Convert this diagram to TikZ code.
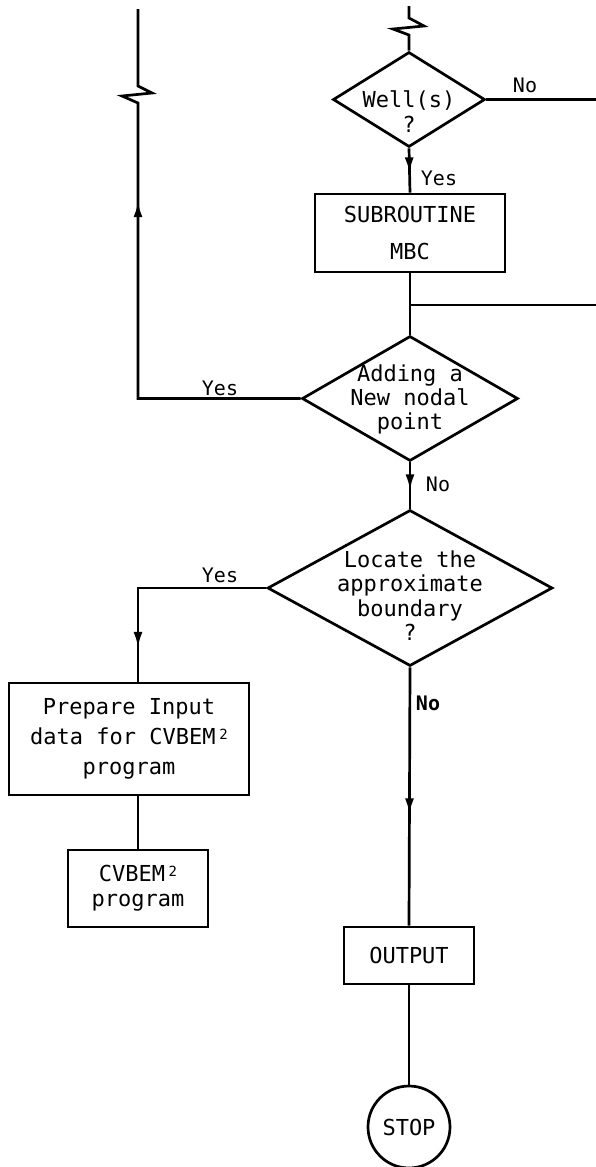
\documentclass[tikz,border=0pt]{standalone}
\usepackage{fontspec}
\newfontfamily\monof{DejaVu Sans Mono}
\usetikzlibrary{shapes.geometric,arrows.meta,decorations.markings}
\tikzset{
  flow/.style={line width=2.7pt},
  txt/.style={font=\monof\fontsize{22}{25}\selectfont, align=center, inner sep=0pt},
  lbl/.style={font=\monof\fontsize{20}{24}\selectfont, inner sep=0pt},
  boxnode/.style={draw, rectangle, line width=2.7pt, inner sep=0pt, txt},
  dia/.style={draw, diamond, line width=2.7pt, inner sep=0pt},
  stopnode/.style={draw, circle, line width=2.7pt, inner sep=0pt, txt},
  ahead/.style={postaction={decorate},
    decoration={markings, mark=at position #1 with {\arrow{Latex[length=16pt,width=9pt]}}}},
}
\newcommand{\suptwo}{\,{\fontsize{14}{14}\selectfont\raisebox{5pt}{2}}}
\begin{document}
\begin{tikzpicture}[x=1pt,y=-1pt]
\useasboundingbox[fill=white] (0,0) rectangle (596,1167);

% decisions
\node[dia, minimum width=152pt, minimum height=95pt] (d1) at (409,99.5) {};
\node[txt] (t1) at (409,112) {Well(s)\\?};
\node[dia, minimum width=216pt, minimum height=125pt] (d2) at (410,398.5) {};
\node[txt, font=\monof\fontsize{22}{24}\selectfont] (t2) at (410,399) {Adding a\\New nodal\\point};
\node[dia, minimum width=285pt, minimum height=156pt] (d3) at (410,588) {};
\node[txt, font=\monof\fontsize{22}{24.5}\selectfont] (t3) at (410,595.5) {Locate the\\approximate\\boundary\\?};

% boxes
\node[boxnode, minimum width=190pt, minimum height=78pt] (b1) at (410,233) {SUBROUTINE\\[12pt]MBC};
\node[boxnode, minimum width=240pt, minimum height=112pt] (b2) at (129,739) {Prepare Input\\[5pt]data for CVBEM\suptwo\\[5pt]program};
\node[boxnode, minimum width=140pt, minimum height=77pt] (b3) at (138,888.5) {CVBEM\suptwo\\program};
\node[boxnode, minimum width=130pt, minimum height=57pt] (b4) at (409,955.5) {OUTPUT};
\node[stopnode, minimum size=82pt] (s) at (409,1127) {STOP};

% coordinates
\coordinate (lx) at (138,0);
\coordinate (topC) at (409,6);
\coordinate (topL) at (138,9);
\coordinate (r1) at (596,99.5);
\coordinate (j) at (410,305);
\coordinate (rj) at (596,305);

% connectors
\draw[flow] (topC) -- (409,18) -- (424,26) -- (393,29) -- (409,35) -- (d1.north);
\draw[flow] (d1.east) -- (r1);
\draw[flow, ahead=25pt] (d1.south) -- (b1.north);
\draw[flow] (b1.south) -- (d2.north);
\draw[flow] (j) -- (rj);
\draw[flow, ahead=360pt] (d2.west) -| (138,103) -- (122,96) -- (152,93) -- (138,86) -- (topL);
\draw[flow, ahead=28pt] (d2.south) -- (d3.north);
\draw[flow, ahead=188pt] (d3.west) -| (b2.north -| lx);
\draw[flow, ahead=147pt] (d3.south) -- (b4.north);
\draw[flow] (b2.south -| lx) -- (b3.north);
\draw[flow] (b4.south) -- (s.north);

% labels
\node[lbl] (l1) at (525,85) {No};
\node[lbl] (l2) at (439,178) {Yes};
\node[lbl] (l3) at (220,388) {Yes};
\node[lbl] (l4) at (438,484) {No};
\node[lbl] (l5) at (220,575) {Yes};
\node[lbl, font=\monof\bfseries\fontsize{20}{24}\selectfont] (l6) at (428,703) {No};
\end{tikzpicture}
\end{document}
